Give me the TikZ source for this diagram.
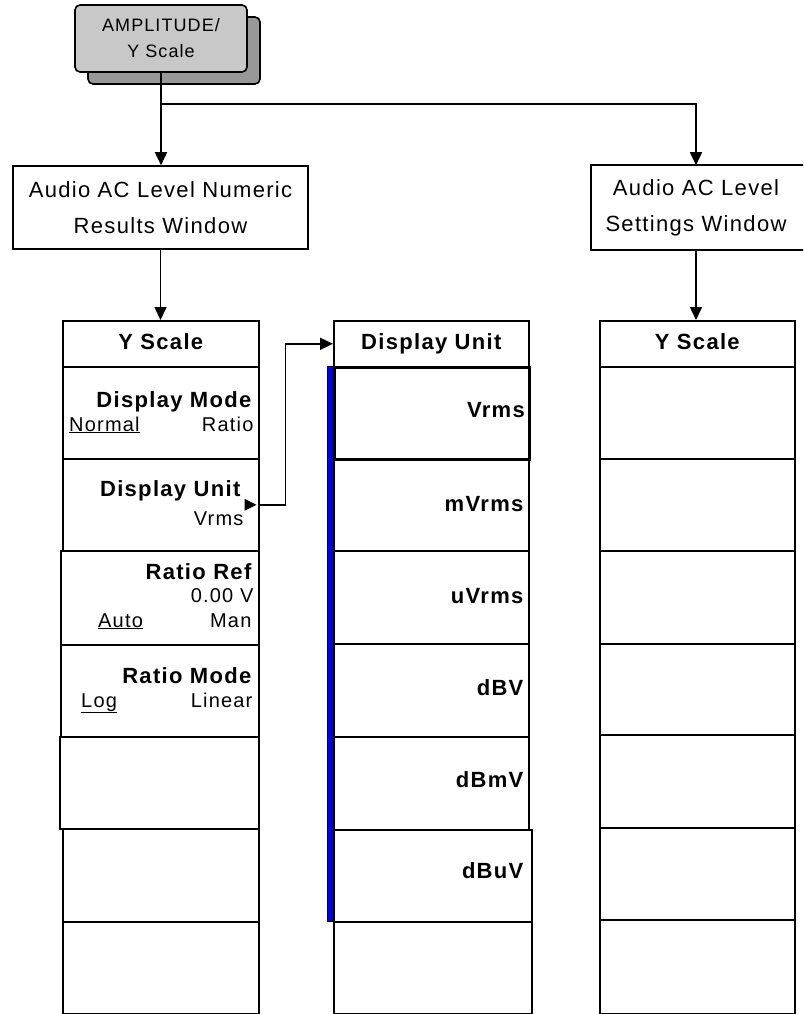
\documentclass[tikz,border=0pt]{standalone}
\usepackage{fontspec}
\setmainfont{Liberation Sans}[LetterSpace=6]
\usepackage{tikz}
\usetikzlibrary{arrows.meta,calc,positioning,shadows}
\definecolor{KeyGray}{HTML}{C8C8C8}
\definecolor{KeyShadow}{HTML}{989898}
\definecolor{UnitBlue}{HTML}{0000F0}
\newcommand{\keyfont}{\fontsize{18}{26}\selectfont}
\newcommand{\winfont}{\fontsize{22}{36}\selectfont}
\newcommand{\labfont}{\fontsize{20}{24}\selectfont}
\newcommand{\titfont}{\fontsize{22}{26}\selectfont\bfseries}
\tikzset{
  menucell/.style={draw,line width=1.6pt,inner sep=0pt,anchor=north west,minimum height=92pt},
  headcell/.style={menucell,minimum height=46pt},
  winbox/.style={draw,line width=1.6pt,align=center,font=\winfont,minimum height=83pt},
  hardkey/.style={draw,line width=1.6pt,rounded corners=5pt,fill=KeyGray,align=center,
    font=\keyfont,minimum width=172pt,minimum height=67pt,
    general shadow={fill=KeyShadow,draw=black,line width=1.6pt,shadow xshift=13pt,shadow yshift=-12pt}},
  feed/.style={line width=1.6pt,-{Triangle[length=13pt,width=12pt]}},
  rlab/.style={anchor=base east,font=\labfont,inner sep=0pt},
  llab/.style={anchor=base west,font=\labfont,inner sep=0pt},
  tlab/.style={anchor=base east,font=\titfont,inner sep=0pt},
  hlab/.style={anchor=base,font=\titfont,inner sep=0pt}
}
\begin{document}
\begin{tikzpicture}[x=1pt,y=-1pt]
  \useasboundingbox (0,0) rectangle (803,1014);
  \fill[white] (0,0) rectangle (803,1014);
  \clip (0,0) rectangle (803,1014);
  \node[hardkey] (amp) at (161,38.5) {AMPLITUDE/\\Y Scale};
  \node[winbox,minimum width=295pt] (numwin) at (160.5,207.5) {Audio AC Level Numeric\\Results Window};
  \node[winbox,draw=none,minimum width=208pt] (setwin) at (696,207.5) {Audio AC Level\\Settings Window};
  \draw[line width=1.6pt] (setwin.north west) rectangle ($(setwin.south east)+(20,0)$);
  \coordinate (split) at ($(amp.south)+(0,31)$);
  \draw[feed] (amp.south) -- (amp.south |- numwin.north);
  \draw[feed] (split) -| (setwin.north);

  \node[headcell,minimum width=196pt] (lhead) at (62,320) {};
  \node[menucell,minimum width=196pt] (lmode) at (62,366) {};
  \node[menucell,minimum width=196pt] (lunit) at (62,458) {};
  \node[menucell,minimum width=198pt,minimum height=94pt] (lref) at (60,550) {};
  \node[menucell,minimum width=198pt] (lratio) at (60,644) {};
  \node[menucell,minimum width=199pt] (lfree1) at (59,736) {};
  \node[menucell,minimum width=196pt,minimum height=93pt] (lfree2) at (62,828) {};
  \node[menucell,minimum width=196pt] (lfree3) at (62,921) {};
  \draw[feed] (numwin.south) -- (numwin.south |- lhead.north);

  \node[hlab] at ($(lhead.north)+(0,29)$) {Y Scale};
  \node[tlab] at ($(lmode.north east)+(-8,41)$) {Display Mode};
  \node[llab] at ($(lmode.north west)+(7,65)$) {\underline{Normal}};
  \node[rlab] at ($(lmode.north east)+(-6,65)$) {Ratio};
  \node[tlab] at ($(lunit.north east)+(-19,38)$) {Display Unit};
  \node[rlab] at ($(lunit.north east)+(-16,67)$) {Vrms};
  \fill ($(lunit.east)+(-15,-6)$) -- ++(12,6) -- ++(-12,6) -- cycle;
  \node[tlab] at ($(lref.north east)+(-8,29)$) {Ratio Ref};
  \node[rlab] at ($(lref.north east)+(-6,52)$) {0.00 V};
  \node[llab] at ($(lref.north west)+(38,77)$) {\underline{Auto}};
  \node[rlab] at ($(lref.north east)+(-8,77)$) {Man};
  \node[tlab] at ($(lratio.north east)+(-8,39)$) {Ratio Mode};
  \node[llab] at ($(lratio.north west)+(21,63)$) {\underline{Log}};
  \node[rlab] at ($(lratio.north east)+(-7,63)$) {Linear};

  \filldraw[fill=UnitBlue,draw=black,line width=0.6pt] (327,366) rectangle (333,921);
  \node[headcell,minimum width=195pt] (mhead) at (333,320) {};
  \node[menucell,minimum width=195pt] (mmvrms) at (333,458) {};
  \node[menucell,minimum width=195pt,minimum height=93pt] (muvrms) at (333,550) {};
  \node[menucell,minimum width=195pt,minimum height=93pt] (mdbv) at (333,643) {};
  \node[menucell,minimum width=195pt,minimum height=93pt] (mdbmv) at (333,736) {};
  \node[menucell,minimum width=198pt] (mdbuv) at (333,829) {};
  \node[menucell,minimum width=198pt] (mfree) at (333,921) {};
  \node[menucell,minimum width=195pt,line width=3pt] (mvrms) at (333,366) {};
  \draw[feed] (lunit.east) -- ++(26,0) |- (mhead.west);

  \node[hlab] at ($(mhead.north)+(0,29)$) {Display Unit};
  \node[tlab] at ($(mvrms.north east)+(-6,51)$) {Vrms};
  \node[tlab] at ($(mmvrms.north east)+(-6,53)$) {mVrms};
  \node[tlab] at ($(muvrms.north east)+(-6,53)$) {uVrms};
  \node[tlab] at ($(mdbv.north east)+(-6,52)$) {dBV};
  \node[tlab] at ($(mdbmv.north east)+(-6,51)$) {dBmV};
  \node[tlab] at ($(mdbuv.north east)+(-9,49)$) {dBuV};

  \node[headcell,minimum width=195pt] (rhead) at (599,320) {};
  \foreach \ytop/\hgt [count=\i] in {366/92,458/92,550/93,643/91,734/93,827/92,919/94}
    \node[menucell,minimum width=195pt,minimum height=\hgt pt] (rkey\i) at (599,\ytop) {};
  \draw[feed] (setwin.south) -- (setwin.south |- rhead.north);
  \node[hlab] at ($(rhead.north)+(0,29)$) {Y Scale};
\end{tikzpicture}
\end{document}
